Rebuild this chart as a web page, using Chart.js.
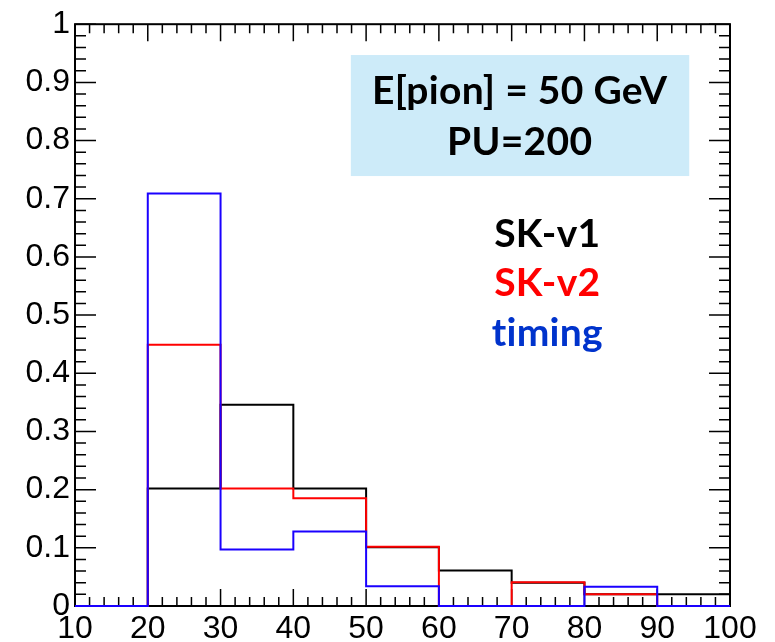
<!DOCTYPE html>
<html>
<head>
<meta charset="utf-8">
<script src="https://cdn.jsdelivr.net/npm/chart.js@4.4.1/dist/chart.umd.min.js"></script>
<style>
  body { margin: 0; background: #fff; }
</style>
</head>
<body>
<canvas id="myChart" width="775" height="642"></canvas>
<script>
// bin edges of the histograms (x axis)
const binEdges = [10, 20, 30, 40, 50, 60, 70, 80, 90, 100];

// fraction of events in each bin
const skV1 = [0, 0.202, 0.346, 0.202, 0.101, 0.061, 0.040, 0.020, 0.020];
const skV2 = [0, 0.449, 0.202, 0.185, 0.102, 0, 0.041, 0.020, 0];
const timing = [0, 0.709, 0.097, 0.128, 0.034, 0, 0, 0.033, 0];

const seriesNames = ['SK-v1', 'SK-v2', 'timing'];
const lineColors = ['#000000', '#ff0000', '#1a00ff'];
const textColors = ['#000000', '#ff0000', '#0033cc'];
const boxLines = ['E[pion] = 50 GeV', 'PU=200'];

// turn bin contents into step points
function steps(vals) {
  const pts = vals.map((v, i) => ({x: binEdges[i], y: v}));
  pts.push({x: binEdges[binEdges.length - 1], y: vals[vals.length - 1]});
  return pts;
}

// ROOT style frame with inside ticks + text box and labels
const rootFrame = {
  id: 'rootFrame',
  beforeDatasetsDraw(chart) {
    const {ctx, chartArea: a, scales: {x, y}} = chart;
    ctx.save();
    ctx.strokeStyle = '#000';
    ctx.lineWidth = 2;
    ctx.strokeRect(a.left, a.top, a.right - a.left, a.bottom - a.top);
    ctx.lineWidth = 1.5;
    ctx.beginPath();
    //x ticks, minor every 2
    for (let i = 0; i <= 45; i++) {
      const v = x.min + i * 2;
      const px = x.getPixelForValue(v);
      const len = i % 5 === 0 ? 17 : 9;
      ctx.moveTo(px, a.bottom); ctx.lineTo(px, a.bottom - len);
      ctx.moveTo(px, a.top); ctx.lineTo(px, a.top + len);
    }
    //y ticks, minor every 0.02
    for (let i = 0; i <= 50; i++) {
      const py = y.getPixelForValue(i * 0.02);
      const len = i % 5 === 0 ? 21 : 11;
      ctx.moveTo(a.left, py); ctx.lineTo(a.left + len, py);
      ctx.moveTo(a.right, py); ctx.lineTo(a.right - len, py);
    }
    ctx.stroke();
    ctx.restore();
  },
  afterDatasetsDraw(chart) {
    const {ctx, scales: {x, y}} = chart;
    ctx.save();
    //light blue box
    const bx0 = x.getPixelForValue(47.9), bx1 = x.getPixelForValue(94.4);
    const by0 = y.getPixelForValue(0.947), by1 = y.getPixelForValue(0.739);
    ctx.fillStyle = '#cdebf9';
    ctx.fillRect(bx0, by0, bx1 - bx0, by1 - by0);
    ctx.font = 'bold 39px Lato';
    ctx.letterSpacing = '0.3px';
    ctx.textAlign = 'center';
    ctx.textBaseline = 'alphabetic';
    ctx.fillStyle = '#000';
    ctx.fillText(boxLines[0], x.getPixelForValue(71.1), y.getPixelForValue(0.863));
    ctx.fillText(boxLines[1], x.getPixelForValue(71.1), y.getPixelForValue(0.775));
    //series names
    const ys = [0.617, 0.532, 0.447];
    seriesNames.forEach((n, i) => {
      ctx.fillStyle = textColors[i];
      ctx.fillText(n, x.getPixelForValue(74.9), y.getPixelForValue(ys[i]));
    });
    ctx.restore();
  }
};

const allSeries = [skV1, skV2, timing];

const config = {
  type: 'line',
  data: {
    datasets: allSeries.map((vals, i) => ({
      label: seriesNames[i],
      data: steps(vals),
      stepped: 'before',
      borderColor: lineColors[i],
      borderWidth: 2,
      pointRadius: 0,
      fill: false,
      clip: 4,
      order: 3 - i
    }))
  },
  plugins: [rootFrame],
  options: {
    responsive: false,
    animation: false,
    layout: {padding: {top: 18, right: 45, left: 0, bottom: 0}},
    plugins: {legend: {display: false}, tooltip: {enabled: false}},
    scales: {
      x: {
        type: 'linear',
        min: 10,
        max: 100,
        grid: {display: false, drawTicks: false},
        border: {display: false},
        ticks: {stepSize: 10, padding: 4, color: '#000', font: {family: 'Liberation Sans', size: 32}},
        afterFit: (s) => { s.height = 36; }
      },
      y: {
        min: 0,
        max: 1,
        grid: {display: false, drawTicks: false},
        border: {display: false},
        ticks: {
          stepSize: 0.1, padding: 5, color: '#000',
          font: {family: 'Liberation Sans', size: 32},
          callback: (v) => String(Math.round(v * 10) / 10)
        },
        afterFit: (s) => { s.width = 75; }
      }
    }
  }
};

const ctx = document.getElementById('myChart').getContext('2d');
const myChart = new Chart(ctx, config);
</script>
</body>
</html>
